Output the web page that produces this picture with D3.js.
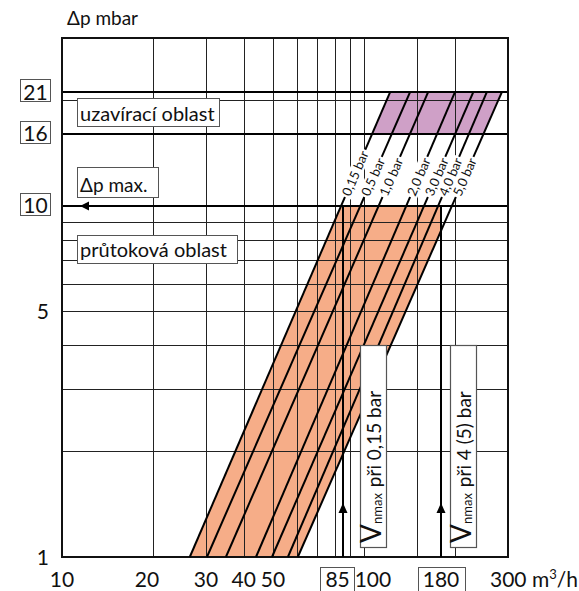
<!DOCTYPE html>
<html>
<head>
<meta charset="utf-8">
<script src="https://cdn.jsdelivr.net/npm/d3@7"></script>
<style>
  body { margin: 0; background: #fff; }
  svg { font-family: Lato, "Open Sans", sans-serif; }
</style>
</head>
<body>
<svg id="chart" width="579" height="591"></svg>
<script>
// axis values
const xTickValues = [10, 20, 30, 40, 50, 100, 300];
const xBoxedValues = [85, 180];
const xGridValues = [20, 30, 40, 50, 60, 70, 80, 90, 100, 150, 200];
const yGridValues = [2, 3, 4, 5, 6, 7, 8, 9, 20];
const yHeavyValues = [10, 16, 21];
const yPlainLabels = [1, 5];
const yBoxedLabels = [21, 16, 10];

// pressure lines: flow (m3/h) read at 1 mbar and at 21 mbar
const pressureLabels = ['0,15 bar', '0,5 bar', '1,0 bar', '2,0 bar', '3,0 bar', '4,0 bar', '5,0 bar'];
const flowAt1 = [26.5, 30.2, 34.9, 43.9, 49.6, 56.0, 60.4];
const flowAt21 = [122, 142, 163, 200, 230, 255, 286];

const maxFlows = [85, 180];
const maxFlowTexts = ['při 0,15 bar', 'při 4 (5) bar'];
const dpMax = 10;
const closingBand = [16, 21];

const svg = d3.select('#chart');
const x = d3.scaleLog().domain([10, 300]).range([62, 508]);
const y = d3.scaleLog().domain([1, 30]).range([557, 38]);

const lx = Math.log;
function flowOn(i, p) {
  const t = lx(p) / lx(21);
  return Math.exp(lx(flowAt1[i]) + t * (lx(flowAt21[i]) - lx(flowAt1[i])));
}
function dpOn(i, q) {
  const t = (lx(q) - lx(flowAt1[i])) / (lx(flowAt21[i]) - lx(flowAt1[i]));
  return Math.exp(t * lx(21));
}
const last = flowAt1.length - 1;
const poly = d3.line().x(d => x(d[0])).y(d => y(d[1]));

// flow region
const flowRegion = [
  [flowAt1[0], 1], [flowOn(0, dpMax), dpMax], [maxFlows[1], dpMax],
  [maxFlows[1], dpOn(last, maxFlows[1])], [flowAt1[last], 1]
];
svg.append('path').attr('d', poly(flowRegion) + 'Z').attr('fill', '#f6ad88');

// closing region
const closeRegion = [
  [flowOn(0, closingBand[0]), closingBand[0]], [flowAt21[0], closingBand[1]],
  [flowAt21[last], closingBand[1]], [flowOn(last, closingBand[0]), closingBand[0]]
];
svg.append('path').attr('d', poly(closeRegion) + 'Z').attr('fill', '#cfa0c7');

const crisp = v => Math.round(v) + 0.5;

// grid
svg.append('g').selectAll('line').data(xGridValues).enter().append('line')
  .attr('x1', d => crisp(x(d))).attr('x2', d => crisp(x(d)))
  .attr('y1', y(30)).attr('y2', y(1))
  .attr('stroke', '#222').attr('stroke-width', 1);
svg.append('g').selectAll('line').data(yGridValues).enter().append('line')
  .attr('x1', x(10)).attr('x2', x(300))
  .attr('y1', d => crisp(y(d))).attr('y2', d => crisp(y(d)))
  .attr('stroke', '#222').attr('stroke-width', 1);
svg.append('g').selectAll('line').data(yHeavyValues).enter().append('line')
  .attr('x1', x(10)).attr('x2', x(300))
  .attr('y1', d => Math.round(y(d))).attr('y2', d => Math.round(y(d)))
  .attr('stroke', '#000').attr('stroke-width', 2);

// frame
svg.append('rect')
  .attr('x', x(10)).attr('y', y(30))
  .attr('width', x(300) - x(10)).attr('height', y(1) - y(30))
  .attr('fill', 'none').attr('stroke', '#111').attr('stroke-width', 2);

// pressure lines
svg.append('g').selectAll('line').data(pressureLabels).enter().append('line')
  .attr('x1', (d, i) => x(flowAt1[i])).attr('y1', y(1))
  .attr('x2', (d, i) => x(flowAt21[i])).attr('y2', y(21))
  .attr('stroke', '#000').attr('stroke-width', 2);

// max flow arrows
maxFlows.forEach(q => {
  const px = Math.round(x(q));
  svg.append('line').attr('x1', px).attr('x2', px)
    .attr('y1', y(1)).attr('y2', y(dpMax))
    .attr('stroke', '#000').attr('stroke-width', 2);
  const ty = y(1) - 54;
  svg.append('path')
    .attr('d', `M${px},${ty} L${px - 4.5},${ty + 10} L${px + 4.5},${ty + 10} Z`)
    .attr('fill', '#000');
});

// dp max arrow head
{
  const py = Math.round(y(dpMax));
  svg.append('path')
    .attr('d', `M${x(10) + 18},${py} L${x(10) + 27},${py - 4.5} L${x(10) + 27},${py + 4.5} Z`)
    .attr('fill', '#000');
}

// labels on pressure lines
const ang = i => Math.atan2(y(21) - y(1), x(flowAt21[i]) - x(flowAt1[i])) * 180 / Math.PI;
pressureLabels.forEach((lab, i) => {
  const p = y.invert(197);
  const g = svg.append('g')
    .attr('transform', `translate(${x(flowOn(i, p))},${y(p)}) rotate(${ang(i)})`);
  const bg = g.append('rect').attr('fill', '#fff');
  const t = g.append('text').attr('x', 2).attr('dy', '0.36em')
    .attr('font-size', 13).attr('fill', '#111').text(lab);
  const w = t.node().getComputedTextLength();
  bg.attr('x', 0).attr('y', -7).attr('width', w + 4).attr('height', 14);
});

// boxed text helper
function boxText(bx, by, bw, bh, txt, size, tx, ty) {
  svg.append('rect').attr('x', bx + 0.5).attr('y', by + 0.5)
    .attr('width', bw).attr('height', bh)
    .attr('fill', '#fff').attr('stroke', '#555').attr('stroke-width', 1);
  return svg.append('text').attr('x', tx).attr('y', ty)
    .attr('font-size', size).attr('fill', '#111').text(txt);
}

boxText(77, 98, 142, 28, 'uzavírací oblast', 20, 80, 121);
boxText(77, 167, 81, 30, 'Δp max.', 19, 80, 192);
boxText(77, 235, 160, 28, 'průtoková oblast', 20, 80, 257);

// Vnmax boxes
maxFlowTexts.forEach((txt, i) => {
  const bx = i === 0 ? x(100) - 4 : x(200) - 5;
  svg.append('rect').attr('x', Math.round(bx) + 0.5).attr('y', 345.5)
    .attr('width', 26).attr('height', 202)
    .attr('fill', '#fff').attr('stroke', '#555').attr('stroke-width', 1.2);
  const t = svg.append('text')
    .attr('transform', `translate(${Math.round(bx) + 21},543) rotate(-90)`)
    .attr('fill', '#111');
  t.append('tspan').attr('font-size', 28).text('V');
  t.append('tspan').attr('font-size', 13).attr('dy', 1).text('nmax');
  t.append('tspan').attr('font-size', 19).attr('dy', -1).attr('dx', 6).text(txt);
});

// y axis labels
svg.append('text').attr('x', 67).attr('y', 25).attr('font-size', 19)
  .attr('fill', '#111').text('Δp mbar');
yPlainLabels.forEach(v => {
  svg.append('text').attr('x', 49).attr('y', y(v)).attr('dy', '0.36em')
    .attr('text-anchor', 'end').attr('font-size', 21).attr('fill', '#111').text(v);
});
yBoxedLabels.forEach(v => {
  const cy = y(v);
  svg.append('rect').attr('x', 20.5).attr('y', Math.round(cy) - 12.5)
    .attr('width', 30).attr('height', 22)
    .attr('fill', '#fff').attr('stroke', '#555');
  svg.append('text').attr('x', 35.5).attr('y', cy).attr('dy', '0.34em')
    .attr('text-anchor', 'middle').attr('font-size', 21).attr('fill', '#111').text(v);
});

// x axis labels
const xNudge = { 20: -6, 85: -5, 100: 9 };
xTickValues.forEach(v => {
  const t = svg.append('text').attr('y', 587).attr('font-size', 21).attr('fill', '#111');
  if (v === 300) {
    t.attr('x', x(v) - 18);
    t.append('tspan').text('300 m');
    t.append('tspan').attr('font-size', 13).attr('dy', -8).text('3');
    t.append('tspan').attr('dy', 8).text('/h');
  } else {
    t.attr('x', x(v) + (xNudge[v] || 0)).attr('text-anchor', 'middle').text(v);
  }
});
xBoxedValues.forEach(v => {
  const cx = x(v) + (xNudge[v] || 0);
  const t = svg.append('text').attr('x', cx).attr('y', 587)
    .attr('text-anchor', 'middle').attr('font-size', 21).attr('fill', '#111').text(v);
  const w = t.node().getComputedTextLength();
  svg.append('rect')
    .attr('x', Math.round(cx - w / 2 - 5) + 0.5).attr('y', 567.5)
    .attr('width', Math.round(w + 10)).attr('height', 24)
    .attr('fill', 'none').attr('stroke', '#555');
  t.raise();
});
</script>
</body>
</html>
